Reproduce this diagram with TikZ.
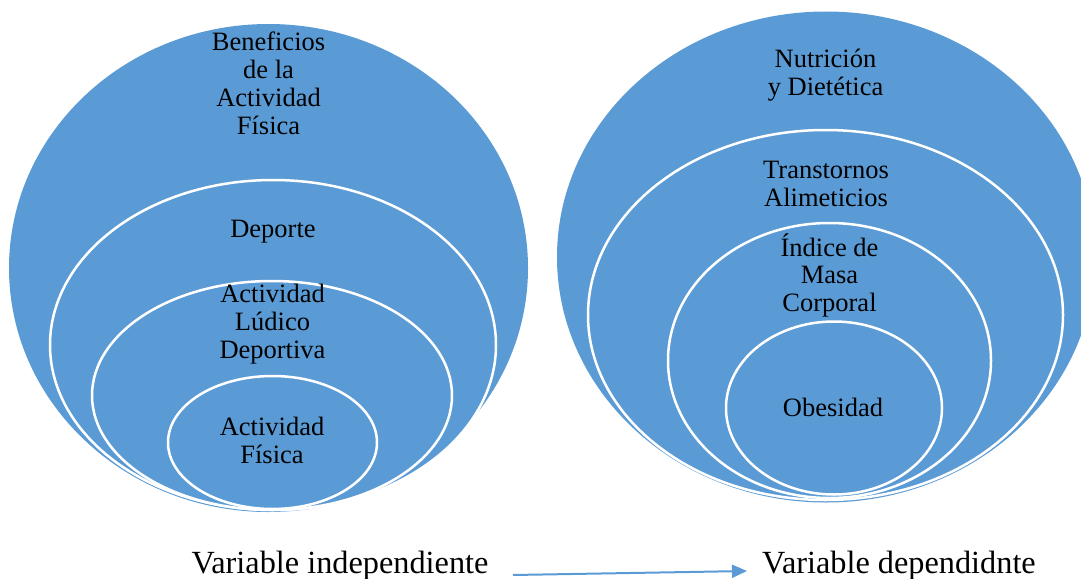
\documentclass[tikz,border=0pt]{standalone}
\usepackage{fontspec}
\setmainfont{Liberation Serif}
\definecolor{ringblue}{HTML}{5B9BD5}
\usetikzlibrary{shapes.geometric,arrows.meta,positioning}
\tikzstyle{ring}=[draw=white,line width=2.5pt,fill=ringblue,ellipse,inner
sep=0pt]
\tikzstyle{ringtext}=[align=center,anchor=base,inner sep=0pt,
  font=\fontsize{26.5}{27.8}\selectfont]

\begin{document}
\begin{tikzpicture}[>=Triangle, x=1pt, y=-1pt]
  \tikzstyle{vartext}=[anchor=base,inner sep=0pt,font=\fontsize{32.3}{34}\selectfont]
  \useasboundingbox (0,0) rectangle (1081,578);

  \node[ring, draw=none, minimum width=519pt, minimum height=488pt] at (268.5,268) (1-1) {};
  \node[ring, minimum width=446pt, minimum height=330pt] at (273,345) (1-2) {};
  \node[ring, minimum width=360pt, minimum height=229pt] at (272,395.5) (1-3) {};
  \node[ring, minimum width=209pt, minimum height=133pt] at (272.5,442.5) (1-4) {};

  % anchor=base sits on the last line
  \node[ringtext] at (268.5,134.3) (t1-1) {Beneficios\\de la\\Actividad\\Física};
  \node[ringtext] at (273,237) (t1-2) {Deporte};
  \node[ringtext] at (272.5,358) (t1-3) {Actividad\\Lúdico\\Deportiva};
  \node[ringtext] at (272,463) (t1-4) {Actividad\\Física};


  \node[ring, draw=none, minimum width=538pt, minimum height=491pt] at (826,257) (2-1) {};
  \node[ring, minimum width=475pt, minimum height=370pt] at (825.5,315) (2-2) {};
  \node[ring, minimum width=323pt, minimum height=275pt] at (829.5,360.5) (2-3) {};
  \node[ring, minimum width=216pt, minimum height=173pt] at (834,408) (2-4) {};

  \node[ringtext] at (825.5,95) (t2-1) {Nutrición\\y Dietética};
  \node[ringtext] at (826,206.7) (t2-2) {Transtornos\\Alimeticios};
  \node[ringtext] at (829.5,311.7) (t2-3) {Índice de\\Masa\\Corporal};
  \node[ringtext] at (833,416.7) (t2-4) {Obesidad};


  \node[vartext] at (340,573) (vi) {Variable independiente};
  \node[vartext] at (899,573) (vd) {Variable dependidnte};

  \coordinate (a) at (513,575);
  \coordinate (b) at (747,571);
  \draw[->, ringblue, line width=2pt, >={Triangle[length=15pt,width=13pt]}] (a) -- (b);
\end{tikzpicture}
\end{document}
